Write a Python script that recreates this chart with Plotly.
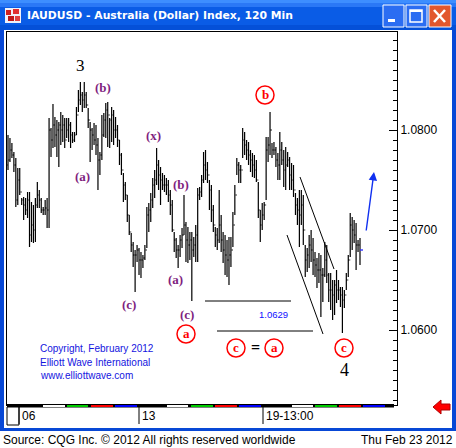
import plotly.graph_objects as go

# 120 min bars, IAUDUSD
high = [1.0795, 1.0792, 1.0787, 1.0778, 1.0772, 1.0762, 1.0762, 1.0732, 1.0733, 1.0732,
        1.0738, 1.0738, 1.0728, 1.0725, 1.0732, 1.0748, 1.0740, 1.0732, 1.0723, 1.0730,
        1.0732, 1.0812, 1.0802, 1.0826, 1.0813, 1.0810, 1.0808, 1.0818, 1.0815, 1.0812,
        1.0812, 1.0812, 1.0808, 1.0798, 1.0798, 1.0823, 1.0840, 1.0848, 1.0838, 1.0848,
        1.0838, 1.0822, 1.0808, 1.0802, 1.0807, 1.0805, 1.0792, 1.0778,
        1.0815, 1.0817, 1.0827, 1.0828, 1.0812, 1.0823, 1.0820, 1.0813, 1.0805, 1.0790,
        1.0777, 1.0757, 1.0748, 1.0735, 1.0715, 1.0697, 1.0688, 1.0680, 1.0685,
        1.0682, 1.0678, 1.0675, 1.0685, 1.0723, 1.0727, 1.0737, 1.0752,
        1.0760, 1.0782, 1.0770, 1.0763, 1.0757, 1.0755, 1.0752, 1.0750,
        1.0740, 1.0730, 1.0698, 1.0692, 1.0685, 1.0695, 1.0702, 1.0735,
        1.0708, 1.0703, 1.0698, 1.0698, 1.0693, 1.0705, 1.0742, 1.0743, 1.0755,
        1.0778, 1.0780, 1.0768, 1.0750, 1.0745, 1.0725, 1.0703, 1.0702,
        1.0740, 1.0715, 1.0698, 1.0695, 1.0690, 1.0693, 1.0693, 1.0718, 1.0745,
        1.0772, 1.0768, 1.0765, 1.0802, 1.0798, 1.0790, 1.0788, 1.0780,
        1.0777, 1.0775, 1.0770, 1.0748, 1.0720, 1.0727, 1.0728, 1.0793, 1.0793,
        1.0818, 1.0787, 1.0788, 1.0783, 1.0777, 1.0798, 1.0788, 1.0780,
        1.0783, 1.0778, 1.0773, 1.0767, 1.0765, 1.0737, 1.0732, 1.0740, 1.0740,
        1.0735, 1.0685, 1.0682, 1.0695, 1.0700, 1.0692, 1.0678, 1.0672,
        1.0677, 1.0675, 1.0662, 1.0688, 1.0685, 1.0657, 1.0657, 1.0650,
        1.0650, 1.0660, 1.0650, 1.0643, 1.0643, 1.0640, 1.0657, 1.0675,
        1.0717, 1.0713, 1.0710, 1.0707, 1.0690, 1.0692]

low = [1.0760, 1.0768, 1.0772, 1.0758, 1.0723, 1.0725, 1.0735, 1.0725, 1.0710, 1.0715,
       1.0712, 1.0683, 1.0688, 1.0687, 1.0688, 1.0722, 1.0722, 1.0717, 1.0715, 1.0715,
       1.0702, 1.0702, 1.0773, 1.0782, 1.0783, 1.0773, 1.0763, 1.0785, 1.0788, 1.0782,
       1.0792, 1.0788, 1.0782, 1.0787, 1.0788, 1.0795, 1.0818, 1.0825, 1.0818, 1.0822,
       1.0822, 1.0802, 1.0768, 1.0780, 1.0785, 1.0775, 1.0740, 1.0755,
       1.0770, 1.0793, 1.0792, 1.0783, 1.0782, 1.0788, 1.0785, 1.0792, 1.0783, 1.0765,
       1.0755, 1.0728, 1.0730, 1.0708, 1.0695, 1.0678, 1.0663, 1.0638, 1.0668,
       1.0655, 1.0652, 1.0662, 1.0670, 1.0682, 1.0698, 1.0708, 1.0722,
       1.0732, 1.0745, 1.0740, 1.0725, 1.0740, 1.0738, 1.0735, 1.0728,
       1.0715, 1.0698, 1.0678, 1.0672, 1.0662, 1.0673, 1.0682, 1.0695,
       1.0668, 1.0667, 1.0670, 1.0629, 1.0673, 1.0668, 1.0668, 1.0730, 1.0733,
       1.0747, 1.0750, 1.0747, 1.0720, 1.0708, 1.0698, 1.0683, 1.0680,
       1.0687, 1.0678, 1.0667, 1.0655, 1.0653, 1.0645, 1.0663, 1.0683, 1.0715,
       1.0755, 1.0747, 1.0747, 1.0772, 1.0775, 1.0770, 1.0765, 1.0758,
       1.0753, 1.0752, 1.0748, 1.0712, 1.0688, 1.0700, 1.0710, 1.0730, 1.0768,
       1.0775, 1.0772, 1.0775, 1.0763, 1.0750, 1.0750, 1.0765, 1.0743,
       1.0740, 1.0763, 1.0740, 1.0740, 1.0733, 1.0715, 1.0705, 1.0683, 1.0705,
       1.0685, 1.0653, 1.0658, 1.0662, 1.0668, 1.0655, 1.0653, 1.0642,
       1.0647, 1.0613, 1.0628, 1.0653, 1.0647, 1.0628, 1.0620, 1.0610,
       1.0615, 1.0627, 1.0630, 1.0623, 1.0597, 1.0622, 1.0640, 1.0653,
       1.0673, 1.0680, 1.0687, 1.0660, 1.0678, 1.0665]

close = [1.0770, 1.0780, 1.0775, 1.0765, 1.0730, 1.0750, 1.0738, 1.0730, 1.0725, 1.0720,
         1.0730, 1.0695, 1.0705, 1.0700, 1.0725, 1.0735, 1.0730, 1.0720, 1.0720, 1.0722,
         1.0720, 1.0800, 1.0790, 1.0805, 1.0795, 1.0800, 1.0805, 1.0800, 1.0805, 1.0790,
         1.0800, 1.0805, 1.0795, 1.0790, 1.0795, 1.0815, 1.0830, 1.0835, 1.0830, 1.0835,
         1.0825, 1.0810, 1.0800, 1.0795, 1.0790, 1.0785, 1.0770, 1.0775,
         1.0795, 1.0810, 1.0820, 1.0815, 1.0810, 1.0815, 1.0800, 1.0800, 1.0790, 1.0775,
         1.0760, 1.0745, 1.0735, 1.0715, 1.0698, 1.0685, 1.0675, 1.0675, 1.0680,
         1.0670, 1.0670, 1.0672, 1.0680, 1.0715, 1.0720, 1.0730, 1.0745,
         1.0750, 1.0765, 1.0755, 1.0750, 1.0745, 1.0745, 1.0745, 1.0735,
         1.0725, 1.0700, 1.0690, 1.0680, 1.0680, 1.0690, 1.0695, 1.0705,
         1.0690, 1.0685, 1.0690, 1.0680, 1.0685, 1.0695, 1.0735, 1.0738, 1.0750,
         1.0765, 1.0760, 1.0755, 1.0740, 1.0720, 1.0705, 1.0695, 1.0690,
         1.0705, 1.0690, 1.0680, 1.0675, 1.0670, 1.0675, 1.0680, 1.0705, 1.0735,
         1.0765, 1.0760, 1.0760, 1.0790, 1.0785, 1.0780, 1.0775, 1.0770,
         1.0765, 1.0760, 1.0750, 1.0720, 1.0705, 1.0715, 1.0725, 1.0780, 1.0785,
         1.0800, 1.0780, 1.0780, 1.0770, 1.0765, 1.0780, 1.0770, 1.0760,
         1.0765, 1.0770, 1.0755, 1.0750, 1.0740, 1.0725, 1.0720, 1.0715, 1.0725,
         1.0700, 1.0670, 1.0675, 1.0685, 1.0680, 1.0670, 1.0665, 1.0660,
         1.0660, 1.0655, 1.0655, 1.0670, 1.0655, 1.0640, 1.0640, 1.0635,
         1.0645, 1.0640, 1.0640, 1.0635, 1.0630, 1.0635, 1.0650, 1.0670,
         1.0705, 1.0700, 1.0695, 1.0685, 1.0685, 1.0680]

first_open = 1.0765
open_ = [first_open] + close[:-1]
bars = list(range(len(high)))

price_ticks = [1.0600, 1.0700, 1.0800]
price_labels = ["1.0600", "1.0700", "1.0800"]
time_labels = ["06", "13", "19-13:00"]
target = 1.0629

# page geometry (pixels) -> paper coords
W, H = 456, 448
L, R, T, B = 7, 397, 32, 405
first_px, last_px = 8, 360  # where the first / last bar sits


def px(x):
    return (x - L) / (R - L)


def py(y):
    return (B - y) / (B - T)


def rect(x0, y0, x1, y1, fill, line=None, lw=0):
    return dict(type="rect", xref="paper", yref="paper", x0=px(x0), x1=px(x1),
                y0=py(y1), y1=py(y0), fillcolor=fill, layer="above",
                line=dict(color=line or fill, width=lw))


def seg(x0, y0, x1, y1, color="black", width=1, dash="solid"):
    return dict(type="line", xref="paper", yref="paper", x0=px(x0), x1=px(x1),
                y0=py(y0), y1=py(y1), layer="above",
                line=dict(color=color, width=width, dash=dash))


def text(x, y, s, color="black", size=12, family="Liberation Sans", xanchor="center"):
    return dict(xref="paper", yref="paper", x=px(x), y=py(y), text=s, showarrow=False,
                xanchor=xanchor, yanchor="middle",
                font=dict(color=color, size=size, family=family))


fig = go.Figure()

fig.add_trace(go.Ohlc(
    x=bars, open=open_, high=high, low=low, close=close,
    increasing_line_color="black", decreasing_line_color="black",
    line_width=1.2, tickwidth=0.45, hoverinfo="skip", showlegend=False
))

shapes = []
annotations = []

# window chrome: XP title bar and borders
shapes.append(rect(0, 0, 456, 30, "#0A5CE6"))
shapes.append(rect(0, 0, 456, 3, "#3D8EFF"))
shapes.append(rect(0, 3, 456, 7, "#2A78F6"))
shapes.append(rect(0, 25, 456, 30, "#0450D8"))
shapes.append(rect(0, 30, 4, 431, "#0848D6"))
shapes.append(rect(452, 30, 456, 431, "#0848D6"))
shapes.append(rect(0, 428, 456, 431, "#0848D6"))
# icon
shapes.append(rect(5, 8, 21, 23, "#F0F0F8"))
shapes.append(rect(6, 10, 11, 15, "#D02020"))
shapes.append(rect(13, 9, 19, 14, "#E03030"))
shapes.append(rect(8, 16, 14, 21, "#C01818"))
shapes.append(rect(15, 16, 20, 21, "#E04040"))
# buttons
shapes.append(rect(383, 5, 404, 27, "#2B6DF2", "white", 1))
shapes.append(rect(406, 5, 427, 27, "#2B6DF2", "white", 1))
shapes.append(rect(429, 5, 451, 27, "#E2572E", "white", 1))
shapes.append(rect(388, 19, 395, 22, "white"))
shapes.append(rect(410, 10, 422, 22, "rgba(0,0,0,0)", "white", 1.5))
shapes.append(rect(410, 10, 422, 12, "white"))
shapes.append(seg(434, 10, 445, 22, "white", 2.5))
shapes.append(seg(445, 10, 434, 22, "white", 2.5))
annotations.append(text(25, 16, "<b>IAUDUSD - Australia (Dollar) Index, 120 Min</b>",
                        "white", 10.8, "DejaVu Sans", "left"))

# time strip under the plot
shapes.append(rect(7, 404, 394, 407.5, "black"))
day_strip = [(20, 43, "black"), (43, 65, "white"), (67, 88, "#00CC00"), (91, 113, "#FF0000"),
             (115, 137, "#0000FF"), (140, 165, "black"), (167, 188, "white"),
             (191, 213, "#00CC00"), (215, 237, "#FF0000"), (239, 261, "#0000FF"),
             (263, 290, "black"), (292, 313, "white"), (315, 337, "#00CC00"),
             (339, 361, "#FF0000"), (363, 385, "#0000FF")]
for x0, x1, c in day_strip:
    shapes.append(rect(x0, 405, x1, 407, c))
shapes.append(rect(7, 407, 19, 425, "white", "black", 1))
for x, lab in zip([19, 139, 263], time_labels):
    shapes.append(seg(x, 407, x, 424))
    annotations.append(text(x + 1, 416, lab, "black", 12, "Liberation Sans", "left"))

# red scroll arrow
pts = [(433, 407), (441, 400), (441, 404), (450, 404), (450, 410), (441, 410), (441, 414)]
path = "M " + " L ".join(f"{px(a)},{py(b)}" for a, b in pts) + " Z"
shapes.append(dict(type="path", xref="paper", yref="paper", path=path, fillcolor="#FF0000",
                   line=dict(color="#B00000", width=1), layer="above"))

# status line
annotations.append(text(1, 440, "Source: CQG Inc. \u00a9 2012 All rights reserved worldwide",
                        "black", 12, "Liberation Sans", "left"))
annotations.append(text(455, 440, "Thu Feb 23 2012", "black", 12, "Liberation Sans", "right"))

# target lines, channel lines and projection arrow
shapes.append(dict(type="line", xref="paper", yref="y", x0=px(205), x1=px(291),
                   y0=target, y1=target, line=dict(color="black", width=1)))
shapes.append(dict(type="line", xref="paper", yref="y", x0=px(217), x1=px(313),
                   y0=1.0599, y1=1.0599, line=dict(color="black", width=1)))
shapes.append(seg(300, 177, 334, 269))
shapes.append(seg(287, 235, 323, 334))
shapes.append(dict(type="line", xref="paper", yref="y", x0=px(360), x1=px(363),
                   y0=close[-1], y1=close[-1], line=dict(color="#4040FF", width=1.5)))
annotations.append(dict(xref="paper", yref="paper", x=px(374), y=py(172),
                        ax=366 - 374, ay=232 - 172, axref="pixel", ayref="pixel",
                        showarrow=True, arrowhead=2, arrowsize=1.2, arrowwidth=1.4,
                        arrowcolor="#1030F0", text=""))
annotations.append(text(273, 314, f"{target:.4f}", "#1010FF", 9.5))

# wave labels
purple = "#7F1F7F"
serif = "Liberation Serif"
for x, y, s in [(103, 87, "(b)"), (82, 176, "(a)"), (153, 135, "(x)"), (181, 184, "(b)"),
                (175, 279, "(a)"), (129, 304, "(c)"), (187, 314, "(c)")]:
    annotations.append(text(x, y, f"<b>{s}</b>", purple, 13, serif))
annotations.append(text(80, 66, "3", "black", 17, serif))
annotations.append(text(344, 370, "4", "black", 18, serif))
for x, y, s in [(265, 95, "b"), (186, 334, "a"), (236, 348, "c"), (274, 348, "a"), (344, 348, "c")]:
    shapes.append(dict(type="circle", xref="paper", yref="paper", x0=px(x - 9), x1=px(x + 9),
                       y0=py(y + 9), y1=py(y - 9), fillcolor="white",
                       line=dict(color="#FF0000", width=1.5), layer="above"))
    annotations.append(text(x, y - 1, f"<b>{s}</b>", "#FF0000", 13, serif))
annotations.append(text(256, 347, "<b>=</b>", "black", 16, serif))

# copyright block
for y, s in [(348, "Copyright, February 2012"), (362, "Elliott Wave International"),
             (375, "www.elliottwave.com")]:
    annotations.append(text(38, y, s, "#1414E0", 10, "Liberation Sans", "left"))

# x range so that the bars land where they sit in the window
step = (last_px - first_px) / (len(bars) - 1)
x_range = [(L - first_px) / step, (R - first_px) / step]

fig.update_layout(
    width=W, height=H,
    margin=dict(l=L, r=W - R, t=T, b=H - B),
    paper_bgcolor="white", plot_bgcolor="white",
    showlegend=False,
    xaxis=dict(range=x_range, showgrid=False, zeroline=False,
               showticklabels=False, ticks="", showline=True, linecolor="black",
               mirror=True, rangeslider=dict(visible=False), fixedrange=True),
    yaxis=dict(side="right", range=[1.0525, 1.0898], tickvals=price_ticks,
               ticktext=price_labels, ticks="inside", ticklen=8, tickcolor="black",
               showgrid=False, zeroline=False, showline=True, linecolor="black",
               mirror=True, fixedrange=True,
               tickfont=dict(family="Liberation Sans", size=12, color="black"),
               minor=dict(ticks="inside", ticklen=4, dtick=0.001, tick0=1.05,
                          tickcolor="black", showgrid=False)),
    shapes=shapes,
    annotations=annotations,
)

# the page body has a default margin; drop it so the figure fills the window
fig.write_html("out.html", config={"displayModeBar": False},
               post_script="document.body.style.margin='0px';document.body.style.overflow='hidden';")
